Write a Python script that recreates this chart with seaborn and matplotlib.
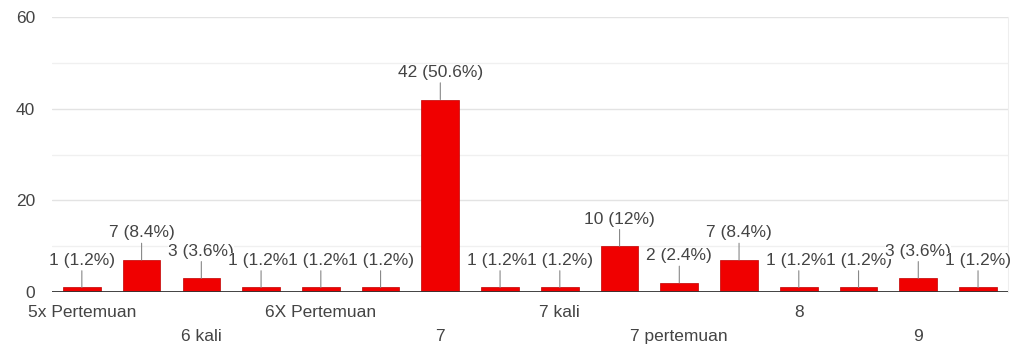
import matplotlib
matplotlib.use("Agg")
import matplotlib.pyplot as plt
import seaborn as sns

# answers per option (labels of every other bar are hidden in the source chart)
tick_labels = ["5x Pertemuan", "", "6 kali", "", "6X Pertemuan", "", "7", "",
               "7 kali", "", "7 pertemuan", "", "8", "", "9", ""]
counts = [1, 7, 3, 1, 1, 1, 42, 1, 1, 10, 2, 7, 1, 1, 3, 1]
y_ticks = [0, 20, 40, 60]

total = sum(counts)
FS = 12.5


def pct(v):
    p = round(v / total * 100, 1)
    s = f"{p:.1f}"
    if s.endswith(".0"):
        s = s[:-2]
    return f"{v} ({s}%)"


sns.set_style("white")
plt.rcParams['font.family'] = ['Liberation Sans', 'DejaVu Sans']

fig = plt.figure(figsize=(10.29, 3.47), dpi=100)
ax = fig.add_axes([0.0505, 0.1585, 0.929, 0.7925])

pos = list(range(len(counts)))
sns.barplot(x=pos, y=counts, color="#f00000", width=0.63, saturation=1,
            ax=ax, zorder=3, edgecolor="#c00000", linewidth=0.5)

ax.set_ylim(0, 60)
ax.set_xlim(-0.5, len(counts) - 0.5)

# grid: major every 20, minor every 10
for g in range(10, 61, 10):
    c = "#e3e3e3" if g % 20 == 0 else "#f0f0f0"
    ax.axhline(g, color=c, lw=1, zorder=0)
ax.axhline(0, color="#333333", lw=1.3, zorder=4)

for s in ["left", "top", "bottom"]:
    ax.spines[s].set_visible(False)
ax.spines["right"].set_color("#eeeeee")

ax.set_yticks(y_ticks)
ax.set_yticklabels([str(t) for t in y_ticks], color="#444444", fontsize=FS)
ax.tick_params(axis="y", length=0, pad=12)

# alternate tick labels on two rows
row_labels = []
for i, lab in enumerate(tick_labels):
    row_labels.append(lab if i % 4 != 2 else "\n" + lab)
ax.set_xticks(pos)
ax.set_xticklabels(row_labels, color="#444444", fontsize=FS, linespacing=1.75)
ax.tick_params(axis="x", length=0, pad=9)

# value labels with leader lines
for i, v in enumerate(counts):
    ax.annotate(pct(v), xy=(i, v), xytext=(0, 14), textcoords="offset points",
                ha="center", va="bottom", fontsize=FS, color="#444444",
                bbox=dict(facecolor="white", edgecolor="none", pad=0),
                arrowprops=dict(arrowstyle="-", color="#888888", lw=0.8,
                                shrinkA=2, shrinkB=0),
                zorder=5 + i, annotation_clip=False)

ax.set_xlabel("")
ax.set_ylabel("")

fig.savefig("out.png", dpi=100)
